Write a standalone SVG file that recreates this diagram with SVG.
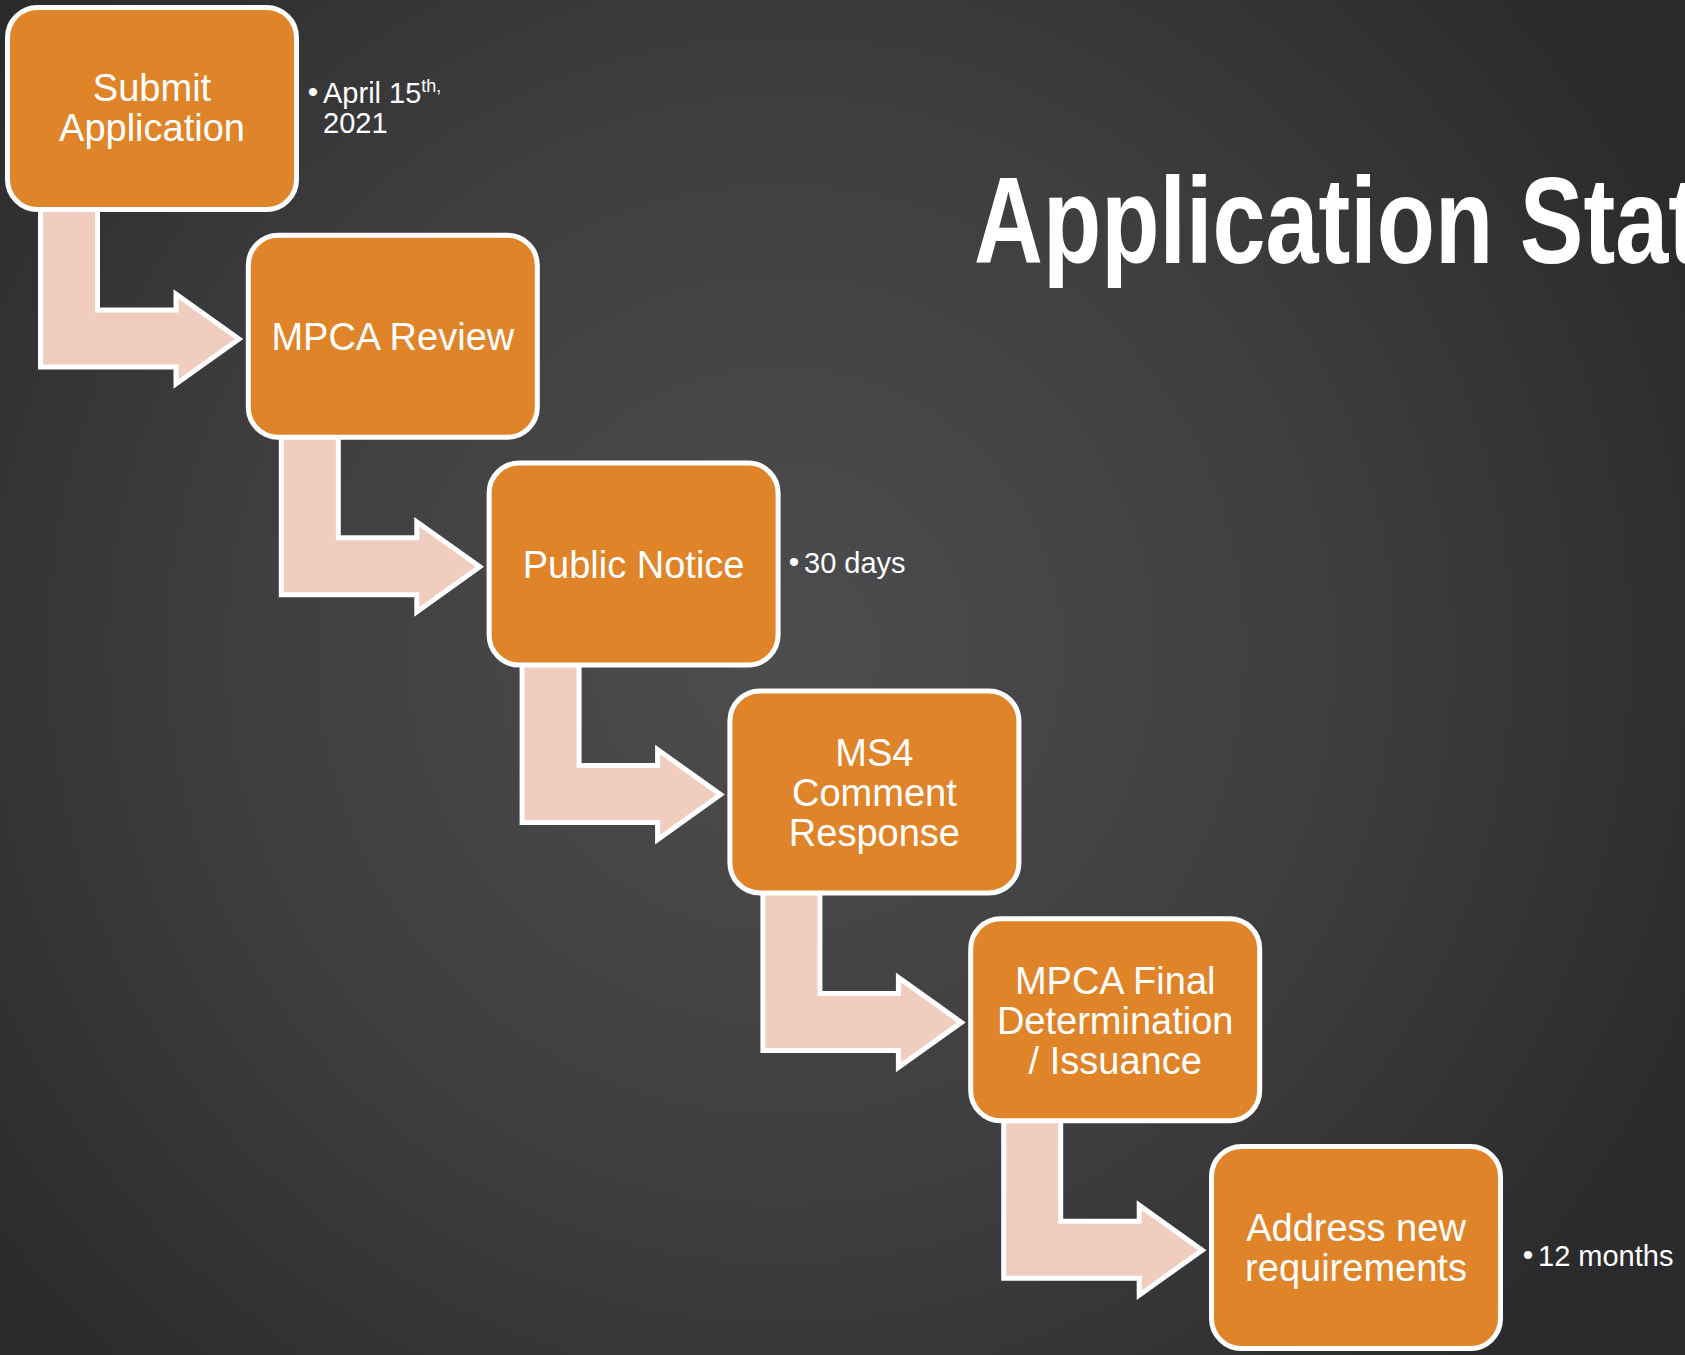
<svg xmlns="http://www.w3.org/2000/svg" width="1685" height="1355" viewBox="0 0 1685 1355">
<defs>
<radialGradient id="bg" cx="780" cy="650" r="1000" gradientUnits="userSpaceOnUse">
<stop offset="0" stop-color="#4d4d4f"/>
<stop offset="0.55" stop-color="#3e3e40"/>
<stop offset="1" stop-color="#2b2b2e"/>
</radialGradient>
<path id="bend" d="M40.5,200 V367 H176 V384 L239,339 L176,294 V310 H97.5 V200 Z"/>
</defs>
<style>
.box{fill:#e0842a;stroke:#ffffff;stroke-width:5}
.arr{fill:#f0cdbf;stroke:#ffffff;stroke-width:5;stroke-linejoin:miter}
.lbl{font-family:"Liberation Sans",Arial,sans-serif;font-size:38px;fill:#ffffff;text-anchor:middle}
.side{font-family:"Liberation Sans",Arial,sans-serif;font-size:29px;fill:#ffffff}
.bul{font-family:"Liberation Sans",Arial,sans-serif;font-size:30px;fill:#ffffff;text-anchor:middle}
.title{font-family:"Liberation Sans",Arial,sans-serif;font-size:123px;font-weight:bold;fill:#ffffff}
</style>
<rect width="1685" height="1355" fill="url(#bg)"/>
<text class="title" x="974" y="263" textLength="726" lengthAdjust="spacingAndGlyphs">Application Stat</text>
<g id="connectors">
<use href="#bend" class="arr"/>
<use href="#bend" class="arr" transform="translate(240.8,227.8)"/>
<use href="#bend" class="arr" transform="translate(481.6,455.6)"/>
<use href="#bend" class="arr" transform="translate(722.4,683.4)"/>
<use href="#bend" class="arr" transform="translate(963.2,911.2)"/>
</g>
<g id="n1">
<rect class="box" x="7.5" y="7.5" width="289" height="202" rx="30"/>
<text class="lbl" x="152" y="101">Submit</text>
<text class="lbl" x="152" y="141">Application</text>
</g>
<g id="n2">
<rect class="box" x="248.3" y="235.3" width="289" height="202" rx="30"/>
<text class="lbl" x="392.8" y="350">MPCA Review</text>
</g>
<g id="n3">
<rect class="box" x="489.1" y="463.1" width="289" height="202" rx="30"/>
<text class="lbl" x="633.6" y="578">Public Notice</text>
</g>
<g id="n4">
<rect class="box" x="729.9" y="690.9" width="289" height="202" rx="30"/>
<text class="lbl" x="874.4" y="766">MS4</text>
<text class="lbl" x="874.4" y="806">Comment</text>
<text class="lbl" x="874.4" y="846">Response</text>
</g>
<g id="n5">
<rect class="box" x="970.7" y="918.7" width="289" height="202" rx="30"/>
<text class="lbl" x="1115.2" y="994">MPCA Final</text>
<text class="lbl" x="1115.2" y="1034">Determination</text>
<text class="lbl" x="1115.2" y="1074">/ Issuance</text>
</g>
<g id="n6">
<rect class="box" x="1211.5" y="1146.5" width="289" height="202" rx="30"/>
<text class="lbl" x="1356" y="1241">Address new</text>
<text class="lbl" x="1356" y="1281">requirements</text>
</g>
<g id="note1">
<text class="bul" x="313" y="102">•</text>
<text class="side" x="323" y="103">April 15<tspan font-size="18" dy="-11">th,</tspan></text>
<text class="side" x="323" y="133">2021</text>
</g>
<g id="note2">
<text class="bul" x="794" y="572">•</text>
<text class="side" x="804" y="573">30 days</text>
</g>
<g id="note3">
<text class="bul" x="1528" y="1265">•</text>
<text class="side" x="1538" y="1266">12 months</text>
</g>
</svg>
